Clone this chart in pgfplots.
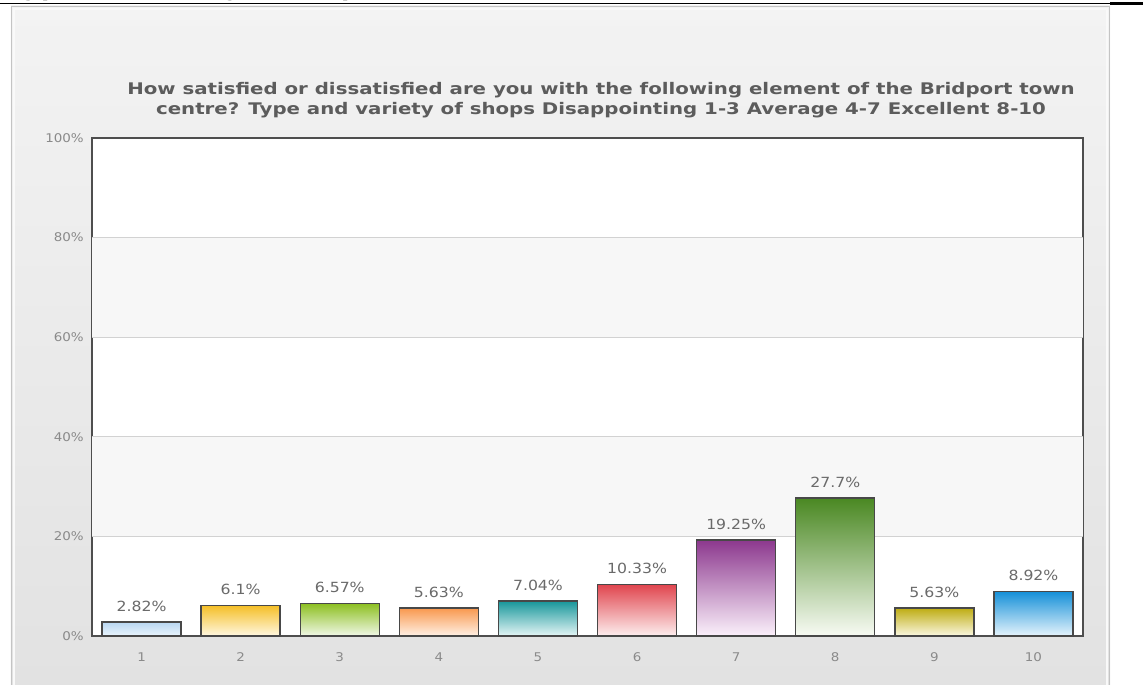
\documentclass[border=0pt]{standalone}
\usepackage{pgfplots}
\pgfplotsset{compat=1.18}
\usepackage{fontspec}
\setmainfont{DejaVu Sans}
\newfontfamily\chartfont[FakeStretch=1.12]{DejaVu Sans}
\newfontfamily\titlefont[FakeStretch=1.235]{DejaVu Sans}
\newfontfamily\headfont{Liberation Sans}
\definecolor{panelTop}{HTML}{F3F3F3}
\definecolor{panelBot}{HTML}{E2E2E2}
\definecolor{panelBorder}{HTML}{C4C4C4}
\definecolor{titleGray}{HTML}{5C5C5C}
\definecolor{tickGray}{HTML}{8A8A8A}
\definecolor{valGray}{HTML}{6A6A6A}
\definecolor{axisGray}{HTML}{4E4E4E}
\definecolor{gridGray}{HTML}{D2D2D2}
\definecolor{bandGray}{HTML}{F7F7F7}
\definecolor{barBorder}{HTML}{484848}
\definecolor{cAt}{HTML}{B8D7F2}\definecolor{cAb}{HTML}{EAF4FC}
\definecolor{cBt}{HTML}{F5BF28}\definecolor{cBb}{HTML}{FFF8E2}
\definecolor{cCt}{HTML}{8CBF20}\definecolor{cCb}{HTML}{F1F8E8}
\definecolor{cDt}{HTML}{F8984E}\definecolor{cDb}{HTML}{FFF1E6}
\definecolor{cEt}{HTML}{17969A}\definecolor{cEb}{HTML}{E6F6F6}
\definecolor{cFt}{HTML}{E0454E}\definecolor{cFb}{HTML}{FDEFEF}
\definecolor{cGt}{HTML}{8C388E}\definecolor{cGb}{HTML}{FBF1FB}
\definecolor{cHt}{HTML}{4A8822}\definecolor{cHb}{HTML}{F8FBF4}
\definecolor{cIt}{HTML}{BEAC12}\definecolor{cIb}{HTML}{FBF8E2}
\definecolor{cJt}{HTML}{1590D8}\definecolor{cJb}{HTML}{E6F4FC}
\newcommand\mybar[4]{%
  \addplot[ybar, bar width=59.25pt, bar shift=0pt, draw=barBorder, line width=1.1pt,
    top color=#3, bottom color=#4,
    nodes near coords={#2\%},
    every node near coord/.style={anchor=center, inner sep=0pt, yshift=12pt,
      font=\chartfont\fontsize{10.5}{12}\selectfont, text=valGray}]
    coordinates {(#1,#2)};}
\begin{document}
\begin{tikzpicture}
\begin{scope}[x=0.75pt,y=-0.75pt,shift={(-69pt,477pt)}]
  \fill[white] (0,0) rectangle (1143,685);
  \path[use as bounding box] (0,0) rectangle (1143,685);
  \shade[top color=panelTop, bottom color=panelBot] (11,6) rectangle (1110,685);
  \draw[panelBorder, line width=1.2pt] (11.5,685) -- (11.5,6.5) -- (1109.5,6.5) -- (1109.5,685);
  \draw[white!90!panelBorder, line width=0.8pt] (14,685) -- (14,9) -- (1107,9) -- (1107,685);
  \begin{scope}
    \clip (0,0) rectangle (1143,685);
    \node[anchor=base west, inner sep=0pt, font=\headfont\bfseries\fontsize{22.5}{24}\selectfont] at (8,-5.5) {Type and variety of shops};
  \end{scope}
  \draw[black, line width=1.1pt] (0,3.5) -- (1143,3.5);
  \draw[black, line width=2.2pt] (1110,3.5) -- (1143,3.5);
  \node[align=center, inner sep=0pt, text=titleGray, font=\titlefont\bfseries\fontsize{12}{15}\selectfont] at (601,100)
    {How satisfied or dissatisfied are you with the following element of the Bridport town\\centre? Type and variety of shops Disappointing 1-3 Average 4-7 Excellent 8-10};
\end{scope}
\begin{axis}[
  scale only axis, width=743.25pt, height=373.5pt,
  xmin=0.5, xmax=10.5, ymin=0, ymax=100,
  xtick={1,...,10}, ytick={0,20,...,100},
  yticklabel={\pgfmathprintnumber{\tick}\%},
  /pgf/number format/assume math mode=true,
  major tick length=0pt,
  axis line style={draw=axisGray, line width=1.5pt},
  axis background/.style={fill=white},
  tick label style={font=\chartfont\fontsize{9}{10}\selectfont, text=tickGray},
  yticklabel style={anchor=east, inner sep=0pt, xshift=-6pt},
  xticklabel style={anchor=center, inner sep=0pt, yshift=-15.75pt},
  clip=false,
]
\fill[bandGray] (axis cs:0.5,20) rectangle (axis cs:10.5,40);
\fill[bandGray] (axis cs:0.5,60) rectangle (axis cs:10.5,80);
\foreach \g in {20,40,60,80} {\edef\tmp{\noexpand\draw[gridGray, line width=0.8pt] (axis cs:0.5,\g) -- (axis cs:10.5,\g);}\tmp}
\mybar{1}{2.82}{cAt}{cAb}
\mybar{2}{6.1}{cBt}{cBb}
\mybar{3}{6.57}{cCt}{cCb}
\mybar{4}{5.63}{cDt}{cDb}
\mybar{5}{7.04}{cEt}{cEb}
\mybar{6}{10.33}{cFt}{cFb}
\mybar{7}{19.25}{cGt}{cGb}
\mybar{8}{27.7}{cHt}{cHb}
\mybar{9}{5.63}{cIt}{cIb}
\mybar{10}{8.92}{cJt}{cJb}
\end{axis}
\end{tikzpicture}
\end{document}
